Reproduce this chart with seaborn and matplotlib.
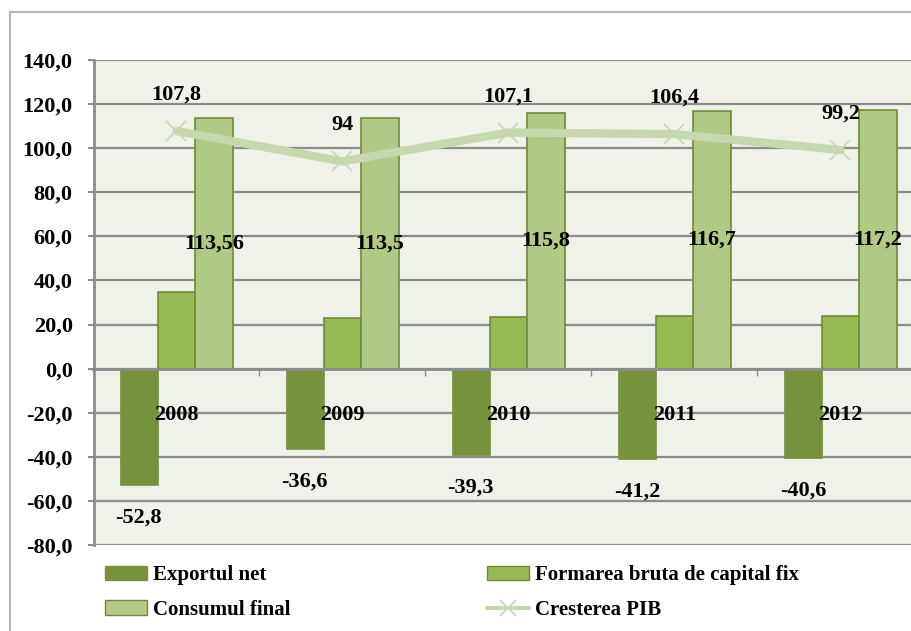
import numpy as np
import pandas as pd
import matplotlib
matplotlib.use("Agg")
import matplotlib.pyplot as plt
from matplotlib.patches import Rectangle, Patch
from matplotlib.lines import Line2D
from matplotlib.ticker import FuncFormatter
import seaborn as sns

years = ["2008", "2009", "2010", "2011", "2012"]
export_net = [-52.8, -36.6, -39.3, -41.2, -40.6]
formare_capital = [34.8, 23.0, 23.2, 23.9, 23.9]
consum_final = [113.56, 113.5, 115.8, 116.7, 117.2]
crestere_pib = [107.8, 94.0, 107.1, 106.4, 99.2]

export_labels = ["-52,8", "-36,6", "-39,3", "-41,2", "-40,6"]
consum_labels = ["113,56", "113,5", "115,8", "116,7", "117,2"]
pib_labels = ["107,8", "94", "107,1", "106,4", "99,2"]

series = ["Exportul net", "Formarea bruta de capital fix", "Consumul final"]
colors = {"Exportul net": "#77923C",
          "Formarea bruta de capital fix": "#98B954",
          "Consumul final": "#B0C985"}
edge = "#6F8B36"
line_col = "#C6D8AD"
grid_col = "#8C8C8C"

df = pd.DataFrame({
    "an": years * 3,
    "valoare": export_net + formare_capital + consum_final,
    "serie": np.repeat(series, len(years)),
})

sns.set_theme(style="white")
plt.rcParams["font.family"] = ["Liberation Serif", "DejaVu Serif"]
plt.rcParams["font.weight"] = "bold"
for k in ["text.color", "axes.labelcolor", "xtick.labelcolor", "ytick.labelcolor"]:
    plt.rcParams[k] = "black"

fig = plt.figure(figsize=(9.11, 6.31), dpi=100)
ax = fig.add_axes([93.5 / 911, 1 - 545 / 631, 1 - 93.5 / 911, (545 - 60) / 631])
ax.set_facecolor("#EFF2E9")
ax.set_axisbelow(True)

sns.barplot(data=df, x="an", y="valoare", hue="serie", hue_order=series,
            palette=colors, width=0.68, gap=0, legend=False, ax=ax,
            saturation=1, linewidth=0)

for name, cont in zip(series, ax.containers):
    for p in cont.patches:
        if name == "Exportul net":
            p.set_edgecolor(colors[name])
            p.set_linewidth(0.5)
        else:
            p.set_edgecolor(edge)
            p.set_linewidth(1.2)
        p.set_zorder(2)

ax.bar_label(ax.containers[0], labels=export_labels, padding=16, fontsize=16,
             fontweight="bold", zorder=6)
ax.bar_label(ax.containers[2], labels=consum_labels, label_type="center",
             fontsize=16, fontweight="bold", zorder=6)

sns.lineplot(x=years, y=crestere_pib, color=line_col, linewidth=6,
             marker="x", markersize=15, markeredgewidth=1.2,
             markeredgecolor=line_col, ax=ax, zorder=4, legend=False)

for i, lab in enumerate(pib_labels):
    ax.annotate(lab, (i, crestere_pib[i]), xytext=(0, 26), textcoords="offset points",
                ha="center", va="center", fontsize=16, fontweight="bold", zorder=6)

ax.set_ylim(-80, 140)
ax.set_xlim(-0.5, 4.425)
ax.set_yticks(np.arange(-80, 141, 20))
ax.yaxis.set_major_formatter(FuncFormatter(lambda v, _: f"{v:.1f}".replace(".", ",")))
ax.yaxis.grid(True, color=grid_col, linewidth=1.6)
ax.xaxis.grid(False)
ax.set_xlabel("")
ax.set_ylabel("")

for s in ["top", "right"]:
    ax.spines[s].set_visible(False)
ax.spines["left"].set_color(grid_col)
ax.spines["left"].set_linewidth(2)
ax.spines["bottom"].set_position(("data", 0))
ax.spines["bottom"].set_color(grid_col)
ax.spines["bottom"].set_linewidth(2)
ax.spines["bottom"].set_zorder(3)

ax.tick_params(axis="y", which="major", left=True, length=4, width=1.5,
               color=grid_col, direction="out", pad=11, labelsize=16)
ax.tick_params(axis="x", which="major", bottom=True, length=0, pad=26, labelsize=16)
ax.set_xticks(np.arange(0.5, 4, 1), minor=True)
ax.tick_params(axis="x", which="minor", bottom=True, length=5, width=1,
               color=grid_col, direction="out")
ax.xaxis.set_zorder(6)

fig.patches.append(Rectangle((10 / 911, -0.1), 1.2, 1 - 12 / 631 + 0.1,
                             transform=fig.transFigure, fill=False,
                             edgecolor="#B5B5B5", linewidth=1.5))

h_exp = Patch(facecolor=colors["Exportul net"], edgecolor=colors["Exportul net"])
h_form = Patch(facecolor=colors["Formarea bruta de capital fix"], edgecolor=edge)
h_cons = Patch(facecolor=colors["Consumul final"], edgecolor=edge)
h_pib = Line2D([], [], color=line_col, linewidth=3, marker="x",
               markersize=12, markeredgecolor=line_col, markeredgewidth=1.2)

leg_kw = dict(frameon=False, fontsize=15, handlelength=2.0, handleheight=0.7,
              handletextpad=0.3, labelspacing=0.7, borderpad=0, loc="upper left")
fig.legend([h_exp, h_cons], ["Exportul net", "Consumul final"],
           bbox_to_anchor=(95 / 911, 1 - 555 / 631), **leg_kw)
fig.legend([h_form, h_pib], ["Formarea bruta de capital fix", "Cresterea PIB"],
           bbox_to_anchor=(477 / 911, 1 - 555 / 631), **leg_kw)

fig.savefig("out.png", dpi=100)
